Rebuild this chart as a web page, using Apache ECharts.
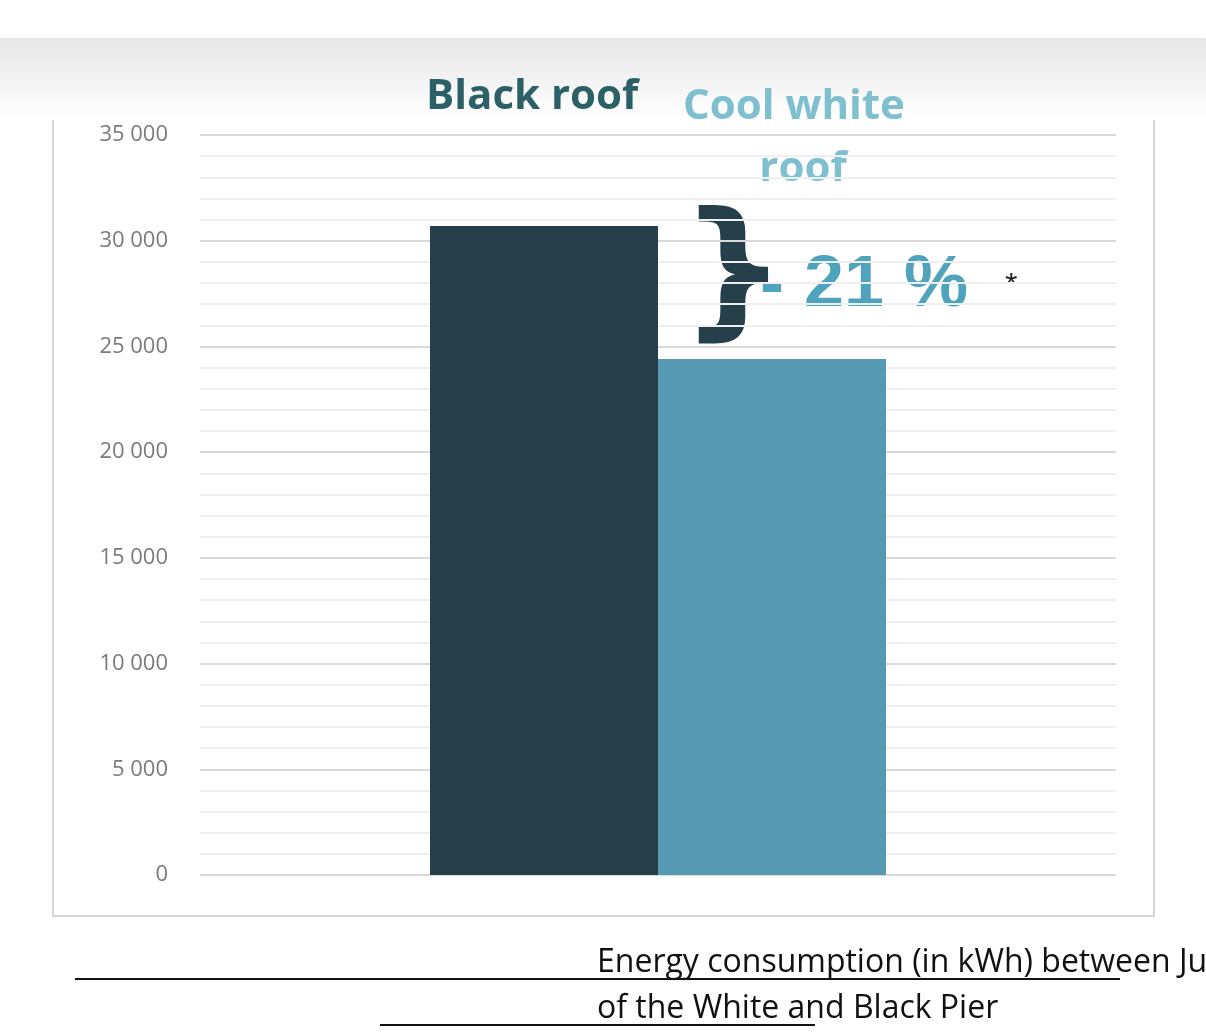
<!DOCTYPE html>
<html><head><meta charset="utf-8">
<script src="https://cdn.jsdelivr.net/npm/echarts@6/dist/echarts.min.js"></script>
<style>html,body{margin:0;background:#fff}#c{width:1206px;height:1035px}</style>
</head><body><div id="c"></div>
<script>
const categories = [''];
const blackRoof = [30700];
const coolWhiteRoof = [24400];
const seriesNames = ['Black roof', 'Cool white roof'];
const chart = echarts.init(document.getElementById('c'));
const fmt = v => v === 0 ? '0' : String(v).replace(/\B(?=(\d{3})+(?!\d))/g, ' ');
chart.setOption({
  animation: false,
  backgroundColor: '#fff',
  grid: {left: 200, right: 90, top: 135, bottom: 160},
  xAxis: {type: 'category', data: categories, axisLine: {show: false}, axisTick: {show: false}, axisLabel: {show: false}},
  yAxis: {type: 'value', min: 0, max: 35000, interval: 5000,
    axisLabel: {formatter: fmt, color: '#7a7a7a', fontSize: 22, margin: 32, fontFamily: 'Open Sans'},
    splitLine: {lineStyle: {color: '#d9d9d9', width: 2}},
    minorTick: {show: false, splitNumber: 5},
    minorSplitLine: {show: true, lineStyle: {color: '#efefef', width: 2}}},
  series: [
    {name: seriesNames[0], type: 'bar', data: blackRoof, barWidth: 228, barGap: '0%', itemStyle: {color: '#253f4b'}},
    {name: seriesNames[1], type: 'bar', data: coolWhiteRoof, barWidth: 228, itemStyle: {color: '#5699b3'}}
  ],
  graphic: [
    {type: 'rect', z: -1, shape: {x: 0, y: 38, width: 1206, height: 80}, style: {fill: new echarts.graphic.LinearGradient(0,0,0,1,[{offset:0,color:'#e6e6e6'},{offset:1,color:'#ffffff'}])}},
    {type: 'polyline', shape: {points: [[53,120],[53,916],[1154,916],[1154,120]]}, style: {stroke: '#d6d6d6', lineWidth: 2, fill: null}},
    {type: 'text', left: 426, top: 76, style: {text: 'Black roof', font: 'bold 42px "Open Sans"', fill: '#2b6166'}},
    {type: 'text', left: 683, top: 76, style: {text: 'Cool white\n       roof', font: 'bold 42px "Open Sans"', fill: '#7fc0d0', lineHeight: 62}},
    {type: 'text', left: 680, top: 205, style: {text: '}', font: 'bold 150px "DejaVu Sans"', fill: '#253f4b'}},
    {type: 'text', left: 760, top: 250, style: {text: '- 21 %', font: 'bold 72px "Liberation Sans"', fill: '#4fa3bd'}},
    {type: 'text', left: 1005, top: 270, style: {text: '*', font: '32px "Liberation Sans"', fill: '#222'}},
    {type: 'text', left: 597, top: 940, style: {text: 'Energy consumption (in kWh) between June and September 2019\nof the White and Black Pier', font: '32px "Open Sans"', fill: '#111', align: 'center', lineHeight: 46}},
    {type: 'line', shape: {x1: 75, y1: 979, x2: 1120, y2: 979}, style: {stroke: '#111', lineWidth: 2}},
    {type: 'line', shape: {x1: 380, y1: 1025, x2: 815, y2: 1025}, style: {stroke: '#111', lineWidth: 2}}
  ]
});
</script></body></html>
